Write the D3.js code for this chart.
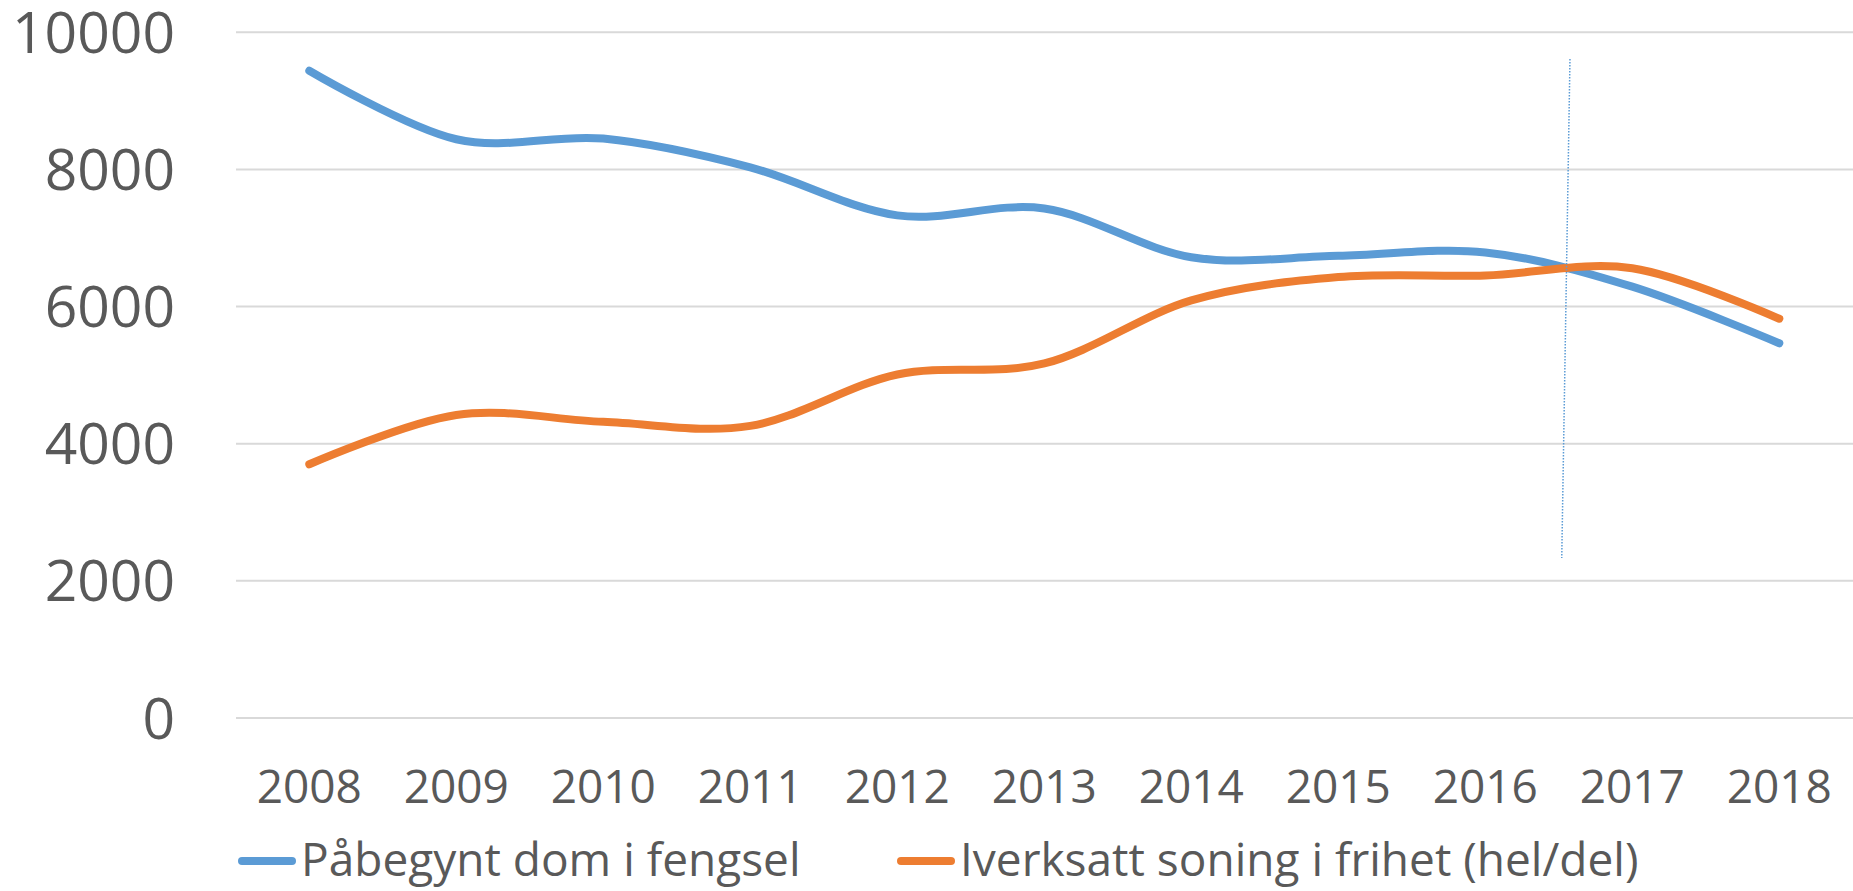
<!DOCTYPE html>
<html>
<head>
<meta charset="utf-8">
<script src="https://cdn.jsdelivr.net/npm/d3@7"></script>
<style>
  body { margin: 0; background: #fff; }
  text { font-family: "Open Sans", sans-serif; fill: #595959; }
</style>
</head>
<body>
<div id="chart"></div>
<script>
const years = [2008, 2009, 2010, 2011, 2012, 2013, 2014, 2015, 2016, 2017, 2018];
const fengsel = [9440, 8440, 8450, 8030, 7330, 7430, 6720, 6740, 6790, 6290, 5465];
const frihet = [3700, 4420, 4320, 4260, 5010, 5170, 6090, 6430, 6455, 6560, 5823];
const yTicks = [0, 2000, 4000, 6000, 8000, 10000];
const seriesNames = ["Påbegynt dom i fengsel", "Iverksatt soning i frihet (hel/del)"];
const colors = ["#5b9bd5", "#ed7d31"];
// hand drawn marker line (year, value) top and bottom
const marker = [[2016.576, 9610], [2016.52, 2333]];

const width = 1853, height = 891;

const svg = d3.select("#chart")
  .append("svg")
  .attr("width", width)
  .attr("height", height);

const x = d3.scaleLinear()
  .domain([2008, 2018])
  .range([309.3, 1779.3]);

const y = d3.scaleLinear()
  .domain([0, 10000])
  .range([718, 32.3]);

const gridLeft = 236, gridRight = 1853;

// gridlines
svg.append("g")
  .selectAll("line")
  .data(yTicks)
  .join("line")
  .attr("x1", gridLeft)
  .attr("x2", gridRight)
  .attr("y1", d => y(d))
  .attr("y2", d => y(d))
  .attr("stroke", "#d9d9d9")
  .attr("stroke-width", 2);

// y labels
svg.append("g")
  .selectAll("text")
  .data(yTicks)
  .join("text")
  .attr("x", 175)
  .attr("y", d => y(d))
  .attr("dy", "0.36em")
  .attr("text-anchor", "end")
  .style("font-size", "57px")
  .text(d => d);

// x labels
svg.append("g")
  .selectAll("text")
  .data(years)
  .join("text")
  .attr("x", d => x(d))
  .attr("y", 803)
  .attr("text-anchor", "middle")
  .style("font-size", "46px")
  .text(d => d);

const line = d3.line()
  .x((d, i) => x(years[i]))
  .y(d => y(d))
  .curve(d3.curveCatmullRom.alpha(0));

[fengsel, frihet].forEach((s, i) => {
  svg.append("path")
    .datum(s)
    .attr("d", line)
    .attr("fill", "none")
    .attr("stroke", colors[i])
    .attr("stroke-width", 8)
    .attr("stroke-linecap", "round")
    .attr("stroke-linejoin", "round");
});

// dotted marker
svg.append("line")
  .attr("x1", x(marker[0][0]))
  .attr("y1", y(marker[0][1]))
  .attr("x2", x(marker[1][0]))
  .attr("y2", y(marker[1][1]))
  .attr("stroke", "#5b9bd5")
  .attr("stroke-width", 1.5)
  .attr("stroke-dasharray", "1.5 1.5");

// legend
const legendX = [238, 897];
const legend = svg.append("g");
seriesNames.forEach((name, i) => {
  legend.append("line")
    .attr("x1", legendX[i] + 4)
    .attr("x2", legendX[i] + 54)
    .attr("y1", 861)
    .attr("y2", 861)
    .attr("stroke", colors[i])
    .attr("stroke-width", 8)
    .attr("stroke-linecap", "round");
  legend.append("text")
    .attr("x", legendX[i] + 63)
    .attr("y", 876)
    .style("font-size", "46px")
    .text(name);
});
</script>
</body>
</html>
